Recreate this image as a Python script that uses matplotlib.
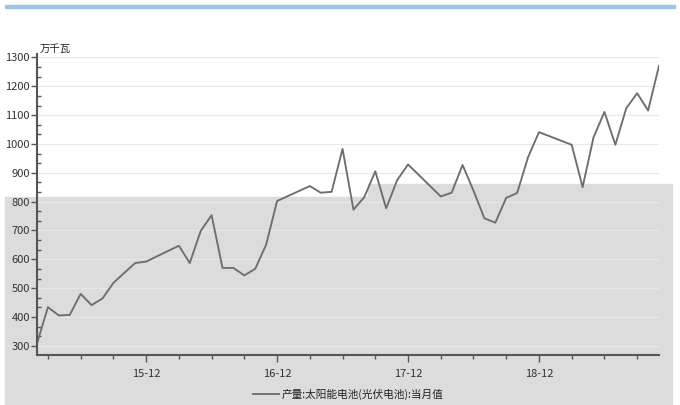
import matplotlib
matplotlib.use('Agg')
import matplotlib.pyplot as plt
from matplotlib.patches import Rectangle
from matplotlib.ticker import FixedLocator, MultipleLocator

plt.rcParams['font.family'] = ['Noto Sans CJK SC', 'DejaVu Sans']

# monthly output, solar cells (10k kW); Jan/Feb of later years not reported
months = ['2015-02', '2015-03', '2015-04', '2015-05', '2015-06', '2015-07',
          '2015-08', '2015-09', '2015-10', '2015-11', '2015-12',
          '2016-03', '2016-04', '2016-05', '2016-06', '2016-07', '2016-08',
          '2016-09', '2016-10', '2016-11', '2016-12',
          '2017-03', '2017-04', '2017-05', '2017-06', '2017-07', '2017-08',
          '2017-09', '2017-10', '2017-11', '2017-12',
          '2018-03', '2018-04', '2018-05', '2018-06', '2018-07', '2018-08',
          '2018-09', '2018-10', '2018-11', '2018-12',
          '2019-03', '2019-04', '2019-05', '2019-06', '2019-07', '2019-08',
          '2019-09', '2019-10', '2019-11']
values = [308, 434, 405, 407, 480, 441, 464, 518, 553, 587, 592,
          647, 587, 698, 753, 570, 570, 544, 567, 651, 802,
          854, 831, 834, 983, 772, 816, 905, 777, 874, 929,
          818, 831, 927, 838, 742, 727, 813, 830, 954, 1041,
          997, 850, 1023, 1111, 997, 1124, 1176, 1116, 1271]
series_name = '产量:太阳能电池(光伏电池):当月值'
unit = '万千瓦'
year_ticks = ['15-12', '16-12', '17-12', '18-12']


def month_index(s):
    y, m = s.split('-')
    return int(y) * 12 + int(m) - 1


x = [month_index(m) for m in months]

fig = plt.figure(figsize=(6.8, 4.05), dpi=100)

# background bands of the screenshot
fig.add_artist(Rectangle((5 / 680, 397 / 405), 670 / 680, 3 / 405,
                         transform=fig.transFigure, color='#9dc3e6', zorder=-1))
fig.add_artist(Rectangle((5 / 680, 0), 363 / 680, 208.5 / 405,
                         transform=fig.transFigure, color='#dcdcdc', zorder=-1))
fig.add_artist(Rectangle((368 / 680, 0), 304 / 680, 221.5 / 405,
                         transform=fig.transFigure, color='#dcdcdc', zorder=-1))

ax = fig.add_axes([37 / 680, 50 / 405, 622 / 680, 301 / 405])
ax.set_facecolor('none')

ax.plot(x, values, color='#6e6e6e', lw=1.35, label=series_name)

ax.set_xlim(x[0], x[-1])
ax.set_ylim(268, 1312)

major_x = [month_index('20' + t) for t in year_ticks]
ax.xaxis.set_major_locator(FixedLocator(major_x))
ax.set_xticklabels(year_ticks)
minor_x = [i for i in range(x[0], x[-1] + 1) if (i % 12) in (2, 5, 8)]
ax.xaxis.set_minor_locator(FixedLocator(minor_x))

ax.yaxis.set_major_locator(FixedLocator(range(300, 1301, 100)))
ax.yaxis.set_minor_locator(MultipleLocator(100 / 3))

ax.tick_params(axis='x', which='major', direction='out', length=5, width=1,
               color='#555555', labelsize=8, labelcolor='#333333', pad=5)
ax.tick_params(axis='x', which='minor', direction='out', length=3, width=1,
               color='#555555')
ax.tick_params(axis='y', which='major', direction='out', length=4, width=1,
               color='#555555', labelsize=8, labelcolor='#333333', pad=1)
ax.tick_params(axis='y', which='minor', direction='in', length=3, width=1,
               color='#555555')

for s in ['top', 'right']:
    ax.spines[s].set_visible(False)
for s in ['left', 'bottom']:
    ax.spines[s].set_color('#555555')
    ax.spines[s].set_linewidth(1.5)

ax.grid(axis='y', which='major', color='#e8e8e8', lw=0.8)
ax.set_axisbelow(True)

ax.text(0.004, 1.0, unit, transform=ax.transAxes, ha='left', va='bottom',
        fontsize=7.5, color='#222222')

fig.legend(loc='center', bbox_to_anchor=(0.512, 0.027), frameon=False,
           fontsize=7.7, handlelength=2.4, handletextpad=0.25,
           labelcolor='#222222')

fig.savefig('out.png', dpi=100)
